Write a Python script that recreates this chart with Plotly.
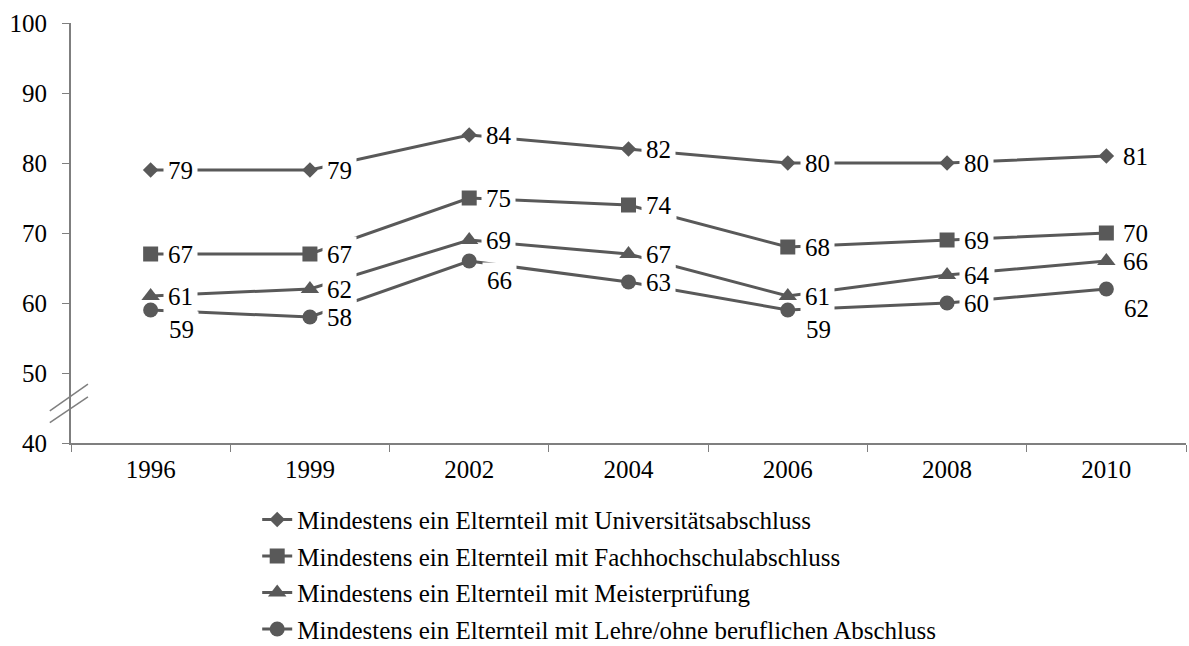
import plotly.graph_objects as go

years = ["1996", "1999", "2002", "2004", "2006", "2008", "2010"]

uni = [79, 79, 84, 82, 80, 80, 81]
fh = [67, 67, 75, 74, 68, 69, 70]
meister = [61, 62, 69, 67, 61, 64, 66]
lehre = [59, 58, 66, 63, 59, 60, 62]

series_names = [
    "Mindestens ein Elternteil mit Universitätsabschluss",
    "Mindestens ein Elternteil mit Fachhochschulabschluss",
    "Mindestens ein Elternteil mit Meisterprüfung",
    "Mindestens ein Elternteil mit Lehre/ohne beruflichen Abschluss",
]
series_values = [uni, fh, meister, lehre]
symbols = ["diamond", "square", "triangle-up", "circle"]
marker_sizes = [12, 15, 16, 15]

# years whose value label sits below-right of the marker instead of beside it
labels_below = [[], [], [], ["1996", "2002", "2006", "2010"]]

LINE = "#595959"
AXIS = "#7f7f7f"
FONT = "Liberation Serif"
FS = 25

fig = go.Figure()

for i, (name, vals) in enumerate(zip(series_names, series_values)):
    fig.add_trace(go.Scatter(
        x=years, y=vals, name=name, mode="lines+markers",
        line=dict(color=LINE, width=3),
        marker=dict(symbol=symbols[i], size=marker_sizes[i], color=LINE),
        legendgroup=f"g{i}",
    ))

# value labels with white boxes that interrupt the lines
annotations = []
for i, vals in enumerate(series_values):
    for k, (yr, v) in enumerate(zip(years, vals)):
        below = yr in labels_below[i]
        annotations.append(dict(
            x=k, y=v, xref="x", yref="y", text=str(v), showarrow=False,
            xanchor="left", yanchor="middle",
            xshift=12 if not below else 13, yshift=0 if not below else -19,
            bgcolor="white", borderpad=4,
            font=dict(family=FONT, size=FS, color="black"),
        ))

# axis break marks on the y axis
shapes = []
for y0, y1 in [(44.6, 48.4), (42.9, 46.6)]:
    shapes.append(dict(
        type="line", xref="x domain", yref="y",
        x0=-0.019, x1=0.0152, y0=y0, y1=y1,
        line=dict(color=AXIS, width=1.5),
    ))

fig.update_layout(
    width=1189, height=646,
    margin=dict(l=71, r=3, t=23, b=203, autoexpand=False),
    paper_bgcolor="white", plot_bgcolor="white",
    font=dict(family=FONT, size=FS, color="black"),
    showlegend=True,
    legend=dict(
        x=0.167, y=0.231, xanchor="left", yanchor="top", yref="container",
        font=dict(family=FONT, size=FS, color="black"),
        tracegroupgap=1, bgcolor="rgba(0,0,0,0)",
    ),
    annotations=annotations,
    shapes=shapes,
)

fig.update_xaxes(
    type="category", showgrid=False, showline=True,
    linecolor=AXIS, linewidth=2,
    ticks="outside", tickson="boundaries", ticklen=7,
    tickcolor=AXIS, tickwidth=1, ticklabelstandoff=3,
    tickfont=dict(family=FONT, size=FS, color="black"),
    range=[-0.5, 6.5],
)
fig.update_yaxes(
    range=[40, 100], dtick=10, showgrid=False, zeroline=False,
    showline=True, linecolor=AXIS, linewidth=2,
    ticks="outside", ticklen=7, tickcolor=AXIS, tickwidth=1,
    ticklabelstandoff=10,
    tickfont=dict(family=FONT, size=FS, color="black"),
)

fig.write_html("out.html")
